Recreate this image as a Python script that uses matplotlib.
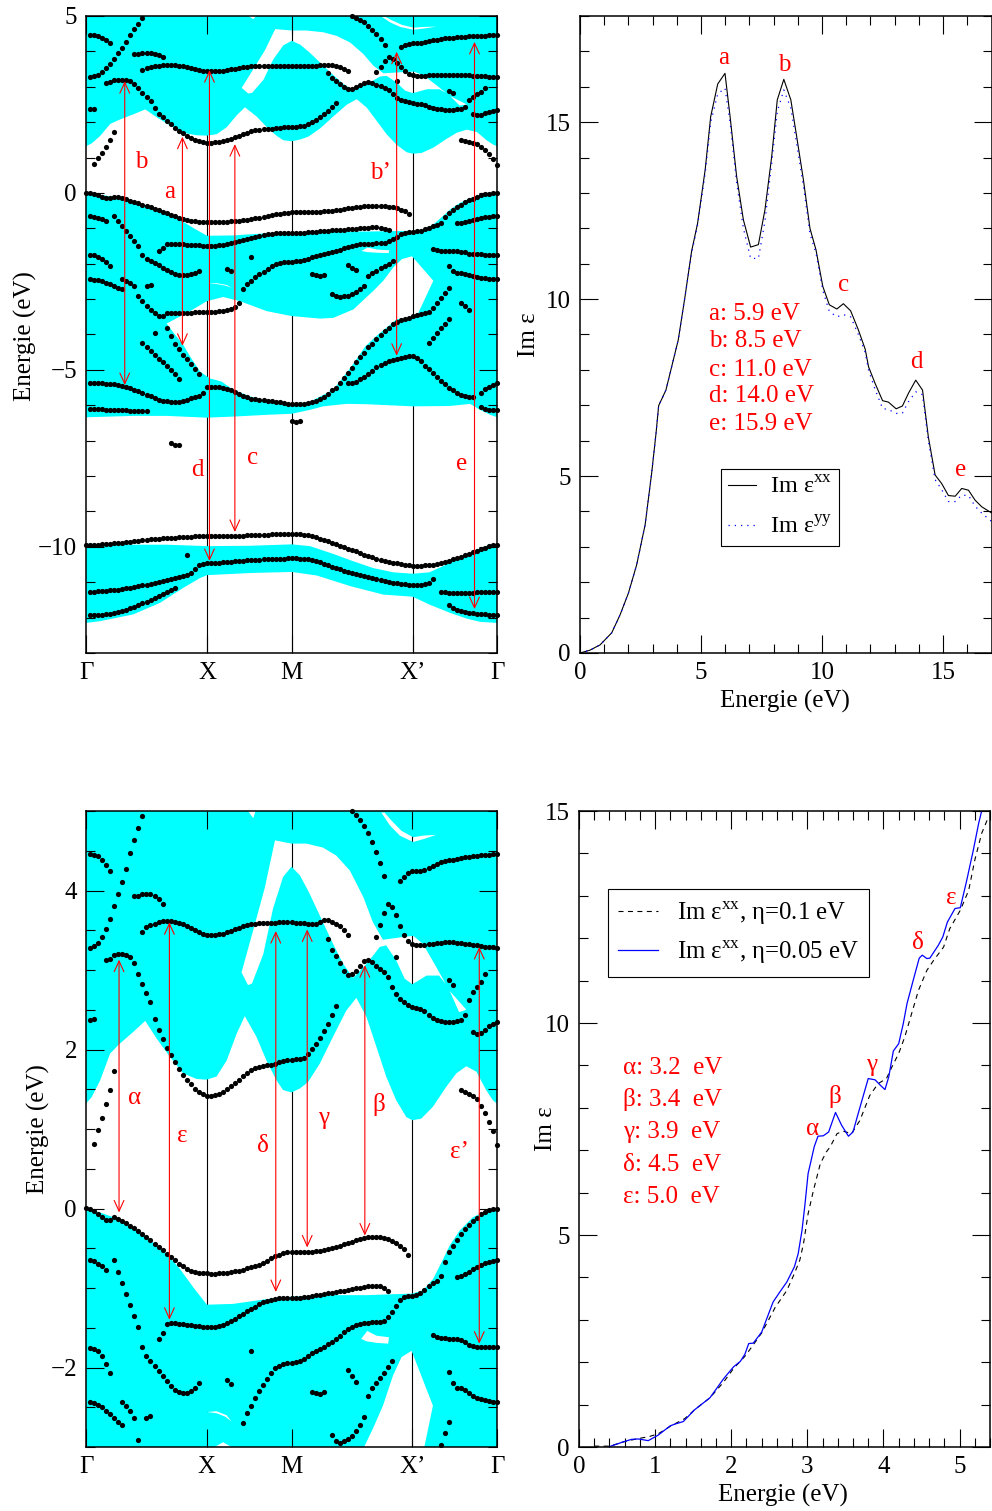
import matplotlib
matplotlib.use('Agg')
import matplotlib.pyplot as plt
import numpy as np
from matplotlib.lines import Line2D
from matplotlib.patches import PathPatch
from matplotlib.path import Path
from matplotlib.ticker import MultipleLocator

plt.rcParams['font.family'] = ['Liberation Serif', 'DejaVu Serif']
plt.rcParams['mathtext.fontset'] = 'custom'
plt.rcParams['mathtext.rm'] = 'Liberation Serif'
plt.rcParams['font.size'] = 18

# k path, in steps of the calculation grid
k_ticks = [0, 30, 51, 81, 102]
k_names = ['Γ', 'X', 'M', 'X’', 'Γ']
k_lines = [30, 51, 81]

# bands: energies of the dots, each list starts at the grid index in band_table
band_a = [3.276, 3.297, 3.338, 3.414, 3.518, 3.644, 3.799, 3.962, 4.105, 4.272, 4.477, 4.641, 4.787, 4.934]
band_b = [4.465, 4.452, 4.431, 4.385, 4.327, 4.247]
band_c = [0.817, 0.985, 1.14, 1.312, 1.496, 1.73]
band_d = [2.367, 2.384]
band_e = [3.120, 3.141, 3.183, 3.204, 3.204, 3.183, 3.162, 3.091, 2.953, 2.819, 2.714, 2.597, 2.388, 2.241, 2.132,
          2.023, 1.935, 1.843, 1.759, 1.684, 1.621, 1.562, 1.500, 1.466, 1.437, 1.420, 1.416, 1.429, 1.445, 1.470,
          1.500, 1.537, 1.579, 1.613, 1.663, 1.705, 1.747, 1.772, 1.785, 1.793, 1.801, 1.810, 1.822, 1.839, 1.856,
          1.868, 1.873, 1.877, 1.885, 1.893, 1.939, 2.011, 2.073, 2.149, 2.233, 2.325, 2.429, 2.542]
band_f = [3.476, 3.535, 3.560, 3.581, 3.598, 3.615, 3.619, 3.615, 3.602, 3.589, 3.573, 3.552, 3.527, 3.497, 3.472,
          3.455, 3.443, 3.439, 3.439, 3.447, 3.455, 3.472, 3.489, 3.510, 3.531, 3.548, 3.560, 3.573, 3.581, 3.585,
          3.589, 3.589, 3.594, 3.594, 3.598, 3.598, 3.598, 3.598, 3.594, 3.589, 3.585, 3.581, 3.577, 3.581, 3.602,
          3.623, 3.623, 3.602, 3.581, 3.548, 3.497, 3.439]
band_g = [3.937, 3.929, 3.950, 3.962, 3.958, 3.933, 3.895, 3.832]
band_h = [4.997, 4.955, 4.892, 4.817, 4.724, 4.607, 4.482, 4.343, 4.188]
band_i = [3.384, 3.254, 3.171, 3.083, 2.982, 2.940, 2.945, 2.982, 3.053, 3.112, 3.129, 3.104, 3.045, 3.012, 2.970,
          2.907, 2.785, 2.697, 2.630, 2.593, 2.559, 2.534, 2.526, 2.513, 2.484, 2.429, 2.400, 2.375, 2.358, 2.350,
          2.346, 2.350, 2.358, 2.375, 2.429]
band_j = [3.414, 3.569, 3.719, 3.832, 3.791, 3.686, 3.556, 3.443, 3.363, 3.321, 3.309, 3.309, 3.313, 3.321, 3.330,
          3.334, 3.342, 3.346, 3.346, 3.346, 3.342, 3.338, 3.330, 3.326, 3.317, 3.309, 3.300, 3.292, 3.288, 3.284,
          3.275]
band_k = [4.117, 4.176, 4.222, 4.239, 4.243, 4.247, 4.260, 4.285, 4.310, 4.335, 4.356, 4.369, 4.381, 4.389, 4.402,
          4.410, 4.419, 4.427, 4.431, 4.440, 4.444, 4.448, 4.452, 4.456, 4.456]
band_l = [2.869, 2.815]
band_m = [2.626, 2.723, 2.785, 2.848, 2.953]
band_n = [2.220, 2.191, 2.212, 2.249, 2.291, 2.316, 2.350]
band_o = [1.487, 1.462, 1.437, 1.416, 1.382, 1.286, 1.202, 1.089, 0.972, 0.796]
band_v1 = [0.004, -0.008, -0.029, -0.071, -0.109, -0.147, -0.147, -0.113, -0.126, -0.155, -0.184, -0.222, -0.251,
           -0.289, -0.327, -0.364, -0.402, -0.444, -0.486, -0.528, -0.570, -0.611, -0.653, -0.695, -0.729, -0.762,
           -0.787, -0.804, -0.812, -0.817, -0.817, -0.821, -0.821, -0.817, -0.812, -0.808, -0.800, -0.792, -0.783,
           -0.771, -0.754, -0.737, -0.720, -0.708, -0.687, -0.658, -0.628, -0.603, -0.582, -0.565, -0.553, -0.544,
           -0.544, -0.544, -0.544, -0.544, -0.544, -0.536, -0.532, -0.523, -0.511, -0.498, -0.486, -0.469, -0.452,
           -0.436, -0.419, -0.398, -0.385, -0.373, -0.364, -0.364, -0.364, -0.364, -0.373, -0.385, -0.406, -0.436,
           -0.469, -0.511, -0.586]
band_v2 = [-0.649, -0.666, -0.695, -0.729, -0.779]
band_v3 = [-0.645, -0.796, -0.934, -1.072, -1.210, -1.349, -1.491, -1.742, -1.855, -1.918, -1.977, -2.040, -2.107,
           -2.174, -2.232, -2.278, -2.308, -2.324, -2.324, -2.299, -2.253, -2.195]
band_v4 = [-1.646, -1.566, -1.453, -1.436, -1.441, -1.449, -1.453, -1.462, -1.470, -1.478, -1.483, -1.491, -1.495,
           -1.495, -1.495, -1.483, -1.466, -1.445, -1.416, -1.386, -1.357, -1.328, -1.294, -1.265, -1.235, -1.206,
           -1.181, -1.164, -1.152, -1.139, -1.131, -1.127, -1.127, -1.122, -1.122, -1.122, -1.118, -1.110, -1.101,
           -1.093, -1.085, -1.076, -1.068, -1.060, -1.051, -1.043, -1.034, -1.022, -1.013, -1.005, -0.997, -0.988,
           -0.980, -0.976, -0.976, -0.980, -1.005, -1.034]
band_v5 = [-2.701, -2.567, -2.479, -2.387, -2.299, -2.220, -2.144, -2.073, -2.010, -1.977, -1.956, -1.943, -1.939,
           -1.935, -1.922, -1.893, -1.860, -1.822, -1.792, -1.767, -1.738, -1.709, -1.675, -1.642, -1.600, -1.558,
           -1.520, -1.491, -1.466, -1.449, -1.441, -1.436, -1.432, -1.428, -1.424, -1.411, -1.369, -1.307, -1.231,
           -1.156, -1.118, -1.101, -1.097, -1.085, -1.064, -1.030, -0.980, -0.940, -0.909, -0.850, -0.678, -0.553,
           -0.473, -0.402, -0.327, -0.260, -0.209, -0.159, -0.117, -0.071, -0.038, -0.021, -0.008, 0.0]
band_v6 = [-0.859, -0.846, -0.825, -0.796, -0.762, -0.733, -0.708, -0.691, -0.678, -0.662, -0.653]
band_v7 = [-1.591, -1.617, -1.629, -1.633, -1.638, -1.642, -1.646, -1.658, -1.679, -1.717, -1.734, -1.738, -1.738,
           -1.742, -1.746, -1.746, -1.746]
band_v8 = [-1.751, -1.767, -1.797, -1.860, -1.952, -2.065]
band_v9 = [-2.437, -2.446, -2.467, -2.500, -2.542, -2.584, -2.630, -2.680, -2.722]
band_v10 = [-2.429, -2.479, -2.542, -2.630]
band_v11 = [-2.630, -2.613]
band_v12 = [-2.915, -3.06, -3.20, -3.31, -3.40, -3.47, -3.48]
band_v13 = [-3.40, -3.40, -3.39, -3.39, -3.38, -3.38, -3.38, -3.37, -3.37, -3.37, -3.36, -3.36, -3.36, -3.35, -3.34,
            -3.32, -3.27, -3.21, -3.10]
band_v14 = [-1.797]
band_v15 = [-2.153, -2.211]
band_v16 = [-2.303, -2.324, -2.337, -2.312]
band_v17 = [-2.035, -2.111, -2.186]
band_v18 = [-2.354, -2.262, -2.195, -2.128, -2.069, -1.998, -1.918]
band_v19 = [-2.848, -2.919, -2.944, -2.923, -2.898, -2.856, -2.793, -2.722, -2.626]
band_v20 = [-2.056, -2.195, -2.253, -2.257, -2.287, -2.324, -2.358, -2.379, -2.396, -2.412, -2.421, -2.429, -2.429]
band_v21 = [-3.12, -3.20, -3.32]
band_v22 = [3.162]
# long band, from Gamma-side X through M and back up to the dots near -2.7
band_w1 = [-5.48, -5.47, -5.47, -5.48, -5.50, -5.54, -5.58, -5.63, -5.69, -5.74, -5.78, -5.81, -5.83, -5.85, -5.86,
           -5.87, -5.89, -5.91, -5.92, -5.94, -5.95, -5.96, -5.97, -5.96, -5.96, -5.94, -5.91, -5.87, -5.83, -5.77,
           -5.68, -5.58, -5.50, -5.38, -5.24, -5.08, -4.95, -4.79, -4.64, -4.51, -4.36, -4.28, -4.14, -4.02, -3.90,
           -3.81, -3.71, -3.64, -3.59, -3.55, -3.53, -3.48, -3.45, -3.43, -3.40, -3.36, -3.24, -3.12, -2.98, -2.82,
           -2.68]
band_w2 = [-5.38, -5.36, -5.33, -5.27, -5.19, -5.11, -5.02, -4.93, -4.86, -4.80, -4.76, -4.72, -4.68, -4.66, -4.64,
           -4.62, -4.62, -4.67, -4.74, -4.88, -4.97, -5.09, -5.21, -5.30, -5.40, -5.52, -5.58, -5.64, -5.70, -5.75,
           -5.77, -5.77]
band_w3 = [-5.66, -5.55, -5.47, -5.42, -5.38]
band_w4 = [-5.38, -5.38, -5.38, -5.38, -5.39, -5.40, -5.41, -5.43, -5.46, -5.48, -5.52, -5.56, -5.60, -5.65, -5.71,
           -5.75, -5.79, -5.84, -5.87, -5.89, -5.90, -5.90, -5.90, -5.88, -5.85, -5.79, -5.76, -5.73, -5.66]
band_w5 = [-6.11, -6.11, -6.11, -6.11, -6.12, -6.12, -6.13, -6.13, -6.14, -6.14, -6.15, -6.16, -6.16, -6.17, -6.15]
band_w6 = [-6.06, -6.11, -6.12, -6.12, -6.12]
band_w7 = [-7.08, -7.12, -7.13]
band_w8 = [-6.45, -6.46, -6.44]
band_w9 = [-4.25, -4.36, -4.46, -4.58, -4.69, -4.79, -4.90, -5.00, -5.12, -5.26]
band_w10 = [-3.95]
band_w11 = [-3.81, -4.04, -4.27, -4.42, -4.58, -4.70, -4.83, -4.97, -5.12]
band_w12 = [-4.25, -4.09, -3.95, -3.83, -3.69, -3.55]
band_s1 = [-9.94, -9.94, -9.94, -9.94, -9.93, -9.92, -9.91, -9.90, -9.89, -9.88, -9.86, -9.85, -9.84, -9.83, -9.81,
           -9.80, -9.79, -9.78, -9.77, -9.76, -9.75, -9.75, -9.74, -9.73, -9.72, -9.71, -9.71, -9.70, -9.70, -9.70,
           -9.70, -9.70, -9.69, -9.69, -9.69, -9.69, -9.68, -9.68, -9.68, -9.68, -9.67, -9.67, -9.67, -9.66, -9.66,
           -9.66, -9.65, -9.65, -9.65, -9.65, -9.64, -9.64, -9.64, -9.65, -9.66, -9.67, -9.70, -9.73, -9.77, -9.81,
           -9.84, -9.88, -9.93, -9.97, -10.01, -10.05, -10.09, -10.13, -10.17, -10.22, -10.27, -10.30, -10.34, -10.37,
           -10.40, -10.43, -10.45, -10.47, -10.49, -10.51, -10.52, -10.53, -10.53, -10.53, -10.52, -10.51, -10.50,
           -10.48, -10.46, -10.43, -10.39, -10.35, -10.32, -10.28, -10.24, -10.20, -10.15, -10.11, -10.06, -10.02,
           -9.98, -9.95, -9.94]
band_s2 = [-11.27, -11.27, -11.26, -11.25, -11.24, -11.23, -11.22, -11.21, -11.19, -11.17, -11.15, -11.13, -11.11,
           -11.09, -11.07, -11.05, -11.02, -11.00, -10.97, -10.94, -10.91, -10.89, -10.86, -10.83, -10.80, -10.74,
           -10.62, -10.50, -10.48, -10.47, -10.46, -10.45, -10.45, -10.44, -10.43, -10.42, -10.41, -10.40, -10.39,
           -10.38, -10.37, -10.37, -10.36, -10.35, -10.35, -10.34, -10.34, -10.33, -10.33, -10.32, -10.32, -10.32,
           -10.33, -10.33, -10.35, -10.38, -10.41, -10.44, -10.48, -10.52, -10.56, -10.60, -10.64, -10.67, -10.71,
           -10.74, -10.77, -10.80, -10.83, -10.86, -10.89, -10.92, -10.95, -10.97, -10.99, -11.01, -11.03, -11.05,
           -11.06, -11.07, -11.08, -11.08, -11.08, -11.06, -11.02, -10.90]
band_s3 = [-11.94, -11.94, -11.93, -11.92, -11.91, -11.90, -11.87, -11.85, -11.82, -11.78, -11.74, -11.70, -11.65,
           -11.60, -11.55, -11.50, -11.45, -11.39, -11.34, -11.28, -11.23, -11.17]
band_s4 = [-11.27, -11.29, -11.30, -11.31, -11.31, -11.31, -11.31, -11.30, -11.30, -11.29, -11.29, -11.28, -11.28,
           -11.27, -11.27]
band_s5 = [-11.63, -11.72, -11.78, -11.81, -11.84, -11.86, -11.88, -11.89, -11.90, -11.91, -11.92, -11.93, -11.93]
band_s6 = [-10.24]

band_table = [(1, band_a), (1, band_b), (2, band_c), (1, band_d), (5, band_e), (14, band_f), (12, band_g),
              (66, band_h), (60, band_i), (72, band_j), (78, band_k), (90, band_l), (95, band_m), (96, band_n),
              (93, band_o), (0, band_v1), (1, band_v2), (7, band_v3), (18, band_v4), (39, band_v5), (92, band_v6),
              (86, band_v7), (1, band_v8), (1, band_v9), (9, band_v10), (15, band_v11), (13, band_v12),
              (20, band_v13), (41, band_v14), (35, band_v15), (56, band_v16), (65, band_v17), (70, band_v18),
              (61, band_v19), (90, band_v20), (93, band_v21), (77, band_v22), (30, band_w1), (65, band_w2),
              (98, band_w3), (1, band_w4), (1, band_w5), (98, band_w6), (21, band_w7), (51, band_w8), (14, band_w9),
              (17, band_w10), (20, band_w11), (85, band_w12), (0, band_s1), (1, band_s2), (1, band_s3),
              (88, band_s4), (90, band_s5), (25, band_s6)]

# projected bulk bands (cyan): lower edge of the conduction part
cond_k = [0, 1.4, 3.5, 6, 8.3, 11.7, 14.7, 17.5, 20.8, 24.1, 27.4, 29.9, 32.4, 34.9, 37.4, 39.4, 42.3, 44.8, 47.3,
          48.9, 51, 53.1, 55.1, 58, 61.3, 64.6, 67.1, 69.6, 72.1, 74.5, 77, 79.5, 81, 83.2, 86.1, 89.4, 91.9, 94.4,
          96.9, 99.3, 101, 102]
cond_e = [1.32, 1.40, 1.61, 1.95, 2.07, 2.22, 2.36, 2.14, 1.91, 1.70, 1.63, 1.62, 1.66, 1.86, 2.20, 2.42, 2.16, 1.86,
          1.61, 1.49, 1.46, 1.51, 1.59, 1.82, 2.16, 2.49, 2.65, 2.41, 2.03, 1.66, 1.36, 1.15, 1.11, 1.13, 1.28, 1.53,
          1.70, 1.79, 1.72, 1.49, 1.36, 1.32]
gap_a_k = [38.6, 41.5, 44.4, 46.9, 51, 54.7, 58.8, 62.1, 65.5, 68.8, 71.2, 73.7, 77.9, 81.2, 83.6, 86.9, 90.2, 94.4,
           92.6, 89.8, 87.6, 84.5, 81, 79.1, 77, 74.5, 72.9, 70, 66.3, 63.8, 61.3, 58.8, 55.5, 53.1, 51, 48.9, 46.4,
           44, 41.2, 40.2]
gap_a_e = [2.97, 3.50, 4.04, 4.63, 4.59, 4.59, 4.54, 4.44, 4.25, 3.92, 3.60, 3.38, 3.41, 3.43, 3.33, 3.04, 2.74, 2.50,
           2.47, 2.79, 2.93, 2.93, 2.82, 2.89, 3.12, 3.31, 3.29, 3.10, 2.90, 3.08, 3.33, 3.60, 3.96, 4.19, 4.30, 4.17,
           3.77, 3.20, 2.83, 2.81]
gap_b_k = [73.3, 75.4, 77.9, 81.2, 84, 86.9, 83.6, 81.2, 78.3, 75.8, 74.1]
gap_b_e = [4.98, 4.82, 4.69, 4.61, 4.65, 4.70, 4.69, 4.67, 4.75, 4.88, 4.98]
gap_c_k = [40.2, 42.1, 41.5]
gap_c_e = [5.0, 5.0, 4.91]

# valence part
val_top_k = [0, 3.5, 6.8, 10.1, 13.4, 16.7, 20, 23.3, 26.6, 30, 36.5, 44.8, 51, 61.3, 69.6, 81, 83.6, 86.1, 88.6,
             90.2, 92.7, 96, 99.3, 102]
val_top_e = [0, -0.05, -0.11, -0.20, -0.30, -0.43, -0.57, -0.76, -0.99, -1.21, -1.20, -1.14, -1.11, -1.09, -1.09,
             -1.07, -1.03, -0.89, -0.64, -0.47, -0.28, -0.11, -0.03, 0]
val_bot_k = [0, 11.7, 20, 30, 36.5, 44.8, 51, 55.5, 58.8, 64.6, 69.6, 81, 90.2, 95.2, 97.7, 100.2, 102]
val_bot_e = [-6.34, -6.30, -6.30, -6.35, -6.32, -6.27, -6.24, -6.13, -6.03, -5.96, -5.97, -6.03, -6.02, -5.96, -6.13,
             -6.27, -6.34]
gap_d_k = [20, 25.8, 29.9, 34, 38.2, 44.8, 51, 58, 61.3, 66.3, 69.2, 71.2, 73.7, 76.2, 78.3, 80.8, 86.1, 82, 77, 72,
           69.2, 65.5, 61.3, 55.7, 51, 44.8, 40.7, 36.5, 33.6, 30.7, 28.3, 25.8, 24.1, 21.7]
gap_d_e = [-3.69, -3.34, -3.06, -2.94, -3.06, -3.34, -3.48, -3.55, -3.53, -3.29, -2.98, -2.77, -2.48, -2.10, -1.87,
           -1.79, -2.48, -3.48, -3.57, -4.04, -4.34, -4.95, -5.56, -5.89, -5.99, -5.89, -5.75, -5.56, -5.33, -5.24,
           -5.05, -4.62, -4.29, -3.95]
gap_e_k = [30, 32.4, 34.9, 36.1, 34.6, 32.4]
gap_e_e = [-2.56, -2.55, -2.60, -2.68, -2.62, -2.575]
gap_f_k = [68.3, 69.8, 72.1, 75.2, 75, 72.1, 69.6]
gap_f_e = [-1.64, -1.54, -1.60, -1.62, -1.70, -1.69, -1.67]

# semicore part
core_top_k = [0, 11.7, 20, 30, 40.7, 51, 55.5, 61.3, 66.3, 71.2, 76.2, 81, 85.1, 88.4, 92.5, 96.7, 100, 102]
core_top_e = [-9.91, -9.94, -9.94, -9.98, -9.97, -9.93, -9.98, -10.20, -10.41, -10.60, -10.72, -10.76, -10.72, -10.55,
              -10.31, -10.08, -9.94, -9.91]
core_bot_k = [0, 3.5, 11.7, 18.4, 24.1, 28.3, 30, 40.7, 51, 57.2, 65.5, 73.7, 81, 85.1, 90.1, 94.4, 97.7, 102]
core_bot_e = [-12.15, -12.10, -11.91, -11.58, -11.16, -10.88, -10.80, -10.74, -10.71, -10.81, -11.11, -11.35, -11.41,
              -11.63, -11.86, -12.03, -12.12, -12.15]

# transitions: k, top, bottom
arrow_top_k = [9.6, 23.9, 30.6, 36.9, 77, 96.3]
arrow_top_hi = [3.16, 1.59, 3.47, 1.38, 3.99, 4.27]
arrow_top_lo = [-5.43, -4.32, -10.40, -9.58, -4.60, -11.76]
arrow_bot_k = [8.2, 20.7, 47.1, 54.9, 69.2, 97.6]
arrow_bot_hi = [3.13, 3.60, 3.49, 3.51, 3.06, 3.29]
arrow_bot_lo = [-0.05, -1.40, -1.05, -0.49, -0.34, -1.70]

# Im eps over 0-17 eV
wide_x = [0, 0.41, 0.83, 1.31, 1.65, 2.0, 2.34, 2.69, 2.96, 3.14, 3.25, 3.55, 4.06, 4.34, 4.61, 4.86, 5.17, 5.4, 5.69,
          5.99, 6.2, 6.47, 6.75, 7.05, 7.37, 7.64, 7.92, 8.15, 8.42, 8.71, 8.95, 9.23, 9.5, 9.75, 10.03, 10.3, 10.61,
          10.88, 11.18, 11.5, 11.78, 11.92, 12.19, 12.5, 12.74, 13.06, 13.32, 13.57, 13.87, 14.15, 14.39, 14.67, 14.94,
          15.22, 15.5, 15.77, 16.05, 16.32, 16.6, 17.0]
wide_xx = [0, 0.08, 0.23, 0.57, 1.07, 1.69, 2.49, 3.62, 5.08, 6.2, 6.99, 7.43, 8.85, 10.08, 11.35, 12.15, 13.65, 15.16,
           16.08, 16.38, 15.16, 13.47, 12.24, 11.47, 11.54, 12.52, 14.03, 15.63, 16.21, 15.63, 14.6, 13.37, 12.0, 11.39,
           10.36, 9.84, 9.72, 9.87, 9.67, 9.13, 8.59, 8.09, 7.62, 7.13, 7.09, 6.9, 6.98, 7.34, 7.71, 7.43, 6.11, 5.03,
           4.79, 4.45, 4.43, 4.65, 4.6, 4.32, 4.13, 3.96]
wide_yy = [0, 0.08, 0.23, 0.57, 1.07, 1.69, 2.49, 3.62, 5.08, 6.2, 6.99, 7.43, 8.85, 10.08, 11.3, 12.1, 13.55, 15.0,
           15.8, 15.96, 15.0, 13.3, 12.0, 11.15, 11.15, 12.2, 13.85, 15.3, 15.91, 15.4, 14.4, 13.2, 11.85, 11.3,
           10.25, 9.65, 9.5, 9.56, 9.5, 9.0, 8.5, 8.0, 7.45, 6.91, 6.88, 6.77, 6.78, 7.1, 7.38, 7.3, 6.0, 4.9,
           4.62, 4.28, 4.28, 4.46, 4.45, 4.15, 3.95, 3.72]

# Im eps over 0-5.4 eV
narrow_x_b = [0.385, 0.58, 0.69, 0.78, 0.91, 1.04, 1.2, 1.26, 1.37, 1.52, 1.72, 1.9, 2.03, 2.12, 2.18, 2.23, 2.29, 2.4,
              2.55, 2.64, 2.73, 2.83, 2.88, 2.93, 2.97, 3.01, 3.05, 3.09, 3.14, 3.21, 3.28, 3.37, 3.45, 3.54, 3.6, 3.68,
              3.8, 3.89, 3.96, 4.02, 4.07, 4.13, 4.2, 4.26, 4.31, 4.39, 4.47, 4.51, 4.57, 4.61, 4.72, 4.78, 4.84, 4.94,
              5.01, 5.09, 5.18, 5.25, 5.29]
narrow_y_b = [0, 0.12, 0.18, 0.19, 0.15, 0.28, 0.5, 0.54, 0.6, 0.88, 1.16, 1.61, 1.89, 2.02, 2.19, 2.44, 2.45, 2.71,
              3.42, 3.66, 3.89, 4.25, 4.56, 5.11, 5.74, 6.45, 6.76, 7.08, 7.33, 7.34, 7.43, 7.89, 7.59, 7.33, 7.43, 7.94,
              8.69, 8.66, 8.53, 8.43, 8.73, 9.34, 9.51, 9.98, 10.46, 11.0, 11.53, 11.6, 11.52, 11.53, 11.83, 12.03, 12.38,
              12.7, 12.72, 13.33, 14.07, 14.7, 15.0]
narrow_x_k = [0.2, 0.41, 0.58, 0.78, 0.91, 1.04, 1.2, 1.39, 1.52, 1.72, 1.9, 2.03, 2.18, 2.27, 2.4, 2.58, 2.73, 2.82,
              2.9, 2.95, 3.01, 3.08, 3.17, 3.25, 3.3, 3.39, 3.47, 3.58, 3.69, 3.82, 3.93, 4.04, 4.11, 4.2, 4.28, 4.37,
              4.46, 4.57, 4.66, 4.79, 4.87, 5.01, 5.12, 5.2, 5.29, 5.38]
narrow_y_k = [0.02, 0.02, 0.12, 0.2, 0.24, 0.31, 0.49, 0.67, 0.88, 1.16, 1.53, 1.85, 2.14, 2.36, 2.69, 3.3, 3.69, 4.05,
              4.4, 4.8, 5.5, 6.05, 6.68, 6.96, 7.08, 7.39, 7.45, 7.39, 7.7, 8.29, 8.57, 8.69, 8.96, 9.28, 9.67, 10.22,
              10.77, 11.24, 11.48, 11.79, 12.22, 12.66, 13.13, 13.84, 14.47, 14.86]

fig_w, fig_h = 992, 1511
fig = plt.figure(figsize=(fig_w / 100, fig_h / 100), dpi=100)


def axes_px(x0, y0, x1, y1):
    return fig.add_axes([x0 / fig_w, 1 - y1 / fig_h, (x1 - x0) / fig_w, (y1 - y0) / fig_h])


def ring(k, e, ccw):
    pts = np.column_stack([k, e])
    x, y = pts[:, 0], pts[:, 1]
    area = np.sum(x * np.roll(y, -1) - np.roll(x, -1) * y)
    if (area > 0) != ccw:
        pts = pts[::-1]
    verts = np.vstack([pts, pts[:1]])
    codes = [Path.MOVETO] + [Path.LINETO] * (len(pts) - 1) + [Path.CLOSEPOLY]
    return verts, codes


def region(outer, holes):
    verts, codes = ring(outer[0], outer[1], True)
    verts, codes = [verts], list(codes)
    for h in holes:
        v, c = ring(h[0], h[1], False)
        verts.append(v)
        codes += c
    return PathPatch(Path(np.vstack(verts), codes), fc='#00ffff', ec='none', zorder=2)


def style_ticks(ax):
    ax.tick_params(which='major', direction='in', top=True, right=True, length=13, width=0.8, pad=6.5)
    ax.tick_params(which='minor', direction='in', top=True, right=True, length=6.5, width=0.8)
    ax.set_axisbelow(False)
    for s in ax.spines.values():
        s.set_linewidth(1.1)
        s.set_zorder(7)


def band_panel(ax, ylim, major, minor, arrows):
    ax.set_xlim(0, 102)
    ax.set_ylim(*ylim)
    for k in k_lines:
        ax.axvline(k, color='black', lw=0.8, zorder=1)
    ax.add_patch(region((cond_k + [102, 0], cond_e + [5.5, 5.5]),
                        [(gap_a_k, gap_a_e), (gap_b_k, gap_b_e), (gap_c_k, gap_c_e)]))
    ax.add_patch(region((val_top_k + val_bot_k[::-1], val_top_e + val_bot_e[::-1]),
                        [(gap_d_k, gap_d_e), (gap_e_k, gap_e_e), (gap_f_k, gap_f_e)]))
    ax.add_patch(region((core_top_k + core_bot_k[::-1], core_top_e + core_bot_e[::-1]), []))
    for start, vals in band_table:
        vals = np.array(vals)
        idx = start + np.arange(len(vals))
        keep = (vals >= ylim[0]) & (vals <= ylim[1])
        ax.scatter(idx[keep], vals[keep], s=14, color='black', linewidths=0, zorder=4, clip_on=False)
    for k, hi, lo in zip(*arrows):
        ax.annotate('', xy=(k, lo), xytext=(k, hi),
                    arrowprops=dict(arrowstyle='<->,head_length=0.55,head_width=0.25', color='red', lw=0.8,
                                    shrinkA=0, shrinkB=0, mutation_scale=14), zorder=5)
    ax.set_xticks(k_ticks)
    ax.set_xticklabels(k_names)
    ax.yaxis.set_major_locator(MultipleLocator(major))
    ax.yaxis.set_minor_locator(MultipleLocator(minor))
    style_ticks(ax)
    ax.set_ylabel('Energie (eV)', fontsize=18)


def spectrum_ticks(ax, xmaj, xmin, ymaj, ymin):
    ax.xaxis.set_major_locator(MultipleLocator(xmaj))
    ax.xaxis.set_minor_locator(MultipleLocator(xmin))
    ax.yaxis.set_major_locator(MultipleLocator(ymaj))
    ax.yaxis.set_minor_locator(MultipleLocator(ymin))
    style_ticks(ax)
    ax.set_xlabel('Energie (eV)', fontsize=18)
    ax.set_ylabel('Im ε', fontsize=18)


RED = dict(color='red', ha='center', va='center', fontsize=18, zorder=6)
RED_L = dict(color='red', ha='left', va='center', fontsize=18, zorder=6)

# top left, band structure
ax1 = axes_px(86, 16, 497.5, 653)
band_panel(ax1, (-13, 5), 5, 1, (arrow_top_k, arrow_top_hi, arrow_top_lo))
ax1.yaxis.set_label_coords(-0.119, 0.498)
for s, x, y in [('b', 13.6, 0.87), ('a', 20.8, 0.02), ('b’', 72.9, 0.56), ('d', 27.5, -7.82), ('c', 41.2, -7.48),
                ('e', 93, -7.65)]:
    ax1.text(x, y, s, **RED)

# top right, spectrum
ax2 = axes_px(580, 16, 991.5, 653)
ax2.set_xlim(0, 17)
ax2.set_ylim(0, 18)
ax2.plot(wide_x, wide_xx, color='black', lw=0.8, zorder=3)
ax2.plot(wide_x, wide_yy, color='blue', lw=0.9, ls=(0, (1, 4)), zorder=3)
spectrum_ticks(ax2, 5, 1, 5, 1)
ax2.yaxis.set_label_coords(-0.097, 0.5)
ax2.xaxis.set_label_coords(0.497, -0.058)
for s, x, y in [('a', 5.95, 16.80), ('b', 8.43, 16.61), ('c', 10.9, 10.39), ('d', 13.88, 8.22), ('e', 15.74, 5.17)]:
    ax2.text(x, y, s, **RED)
for s, y in [('a: 5.9 eV', 9.57), ('b: 8.5 eV', 8.81), ('c: 11.0 eV', 8.01), ('d: 14.0 eV', 7.25), ('e: 15.9 eV', 6.46)]:
    ax2.text(5.33, y, s, **RED_L)
h2 = [Line2D([], [], color='black', lw=0.8), Line2D([], [], color='blue', lw=0.9, ls=(0, (1, 4)))]
ax2.legend(h2, ['Im ε$^{\\mathregular{xx}}$', 'Im ε$^{\\mathregular{yy}}$'], loc='upper left',
           bbox_to_anchor=((721 - 580) / 411.5, 1 - (469 - 16) / 637), borderaxespad=0, fontsize=17.5,
           fancybox=False, framealpha=1, edgecolor='black', handlelength=1.15, handletextpad=0.55, labelspacing=0.75,
           borderpad=0.3).get_frame().set_linewidth(0.8)

# bottom left, band structure zoomed
ax3 = axes_px(86, 811, 497, 1447)
band_panel(ax3, (-3, 5), 2, 0.5, (arrow_bot_k, arrow_bot_hi, arrow_bot_lo))
ax3.yaxis.set_label_coords(-0.088, 0.5)
for s, x, y in [('α', 12.1, 1.385), ('ε', 24, 0.915), ('δ', 43.9, 0.785), ('γ', 59, 1.135), ('β', 72.6, 1.305),
                ('ε’', 92.7, 0.715)]:
    ax3.text(x, y, s, **RED)

# bottom right, spectrum zoomed
ax4 = axes_px(579, 811, 990, 1447)
ax4.set_xlim(0, 5.4)
ax4.set_ylim(0, 15)
ax4.plot(narrow_x_k, narrow_y_k, color='black', lw=0.8, ls=(0, (4.5, 4)), zorder=3)
ax4.plot(narrow_x_b, narrow_y_b, color='blue', lw=0.9, zorder=3)
spectrum_ticks(ax4, 1, 0.2, 5, 1)
ax4.yaxis.set_label_coords(-0.054, 0.5)
ax4.xaxis.set_label_coords(0.497, -0.058)
for s, x, y in [('α', 3.07, 7.51), ('β', 3.36, 8.27), ('γ', 3.84, 9.0), ('δ', 4.45, 11.88), ('ε', 4.89, 12.95)]:
    ax4.text(x, y, s, **RED)
for s, y in [('α: 3.2  eV', 8.95), ('β: 3.4  eV', 8.2), ('γ: 3.9  eV', 7.42), ('δ: 4.5  eV', 6.66), ('ε: 5.0  eV', 5.89)]:
    ax4.text(0.58, y, s, **RED_L)
h4 = [Line2D([], [], color='black', lw=0.8, ls=(0, (4.5, 4))), Line2D([], [], color='blue', lw=0.9)]
ax4.legend(h4, ['Im ε$^{\\mathregular{xx}}$, η=0.1 eV', 'Im ε$^{\\mathregular{xx}}$, η=0.05 eV'], loc='upper left',
           bbox_to_anchor=((608 - 579) / 411, 1 - (889 - 811) / 636), borderaxespad=0, fontsize=17.8,
           fancybox=False, framealpha=1, edgecolor='black', handlelength=1.6, handletextpad=0.76, labelspacing=0.5,
           borderpad=0.42).get_frame().set_linewidth(0.8)

fig.savefig('out.png', dpi=100)
